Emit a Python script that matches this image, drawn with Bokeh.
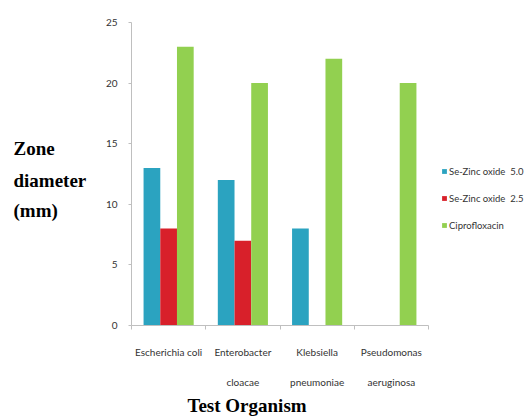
from bokeh.plotting import figure
from bokeh.layouts import row
from bokeh.models import FixedTicker, Legend, LegendItem, ColumnDataSource, Range1d, Title
from bokeh.core.properties import value
from bokeh.embed import file_html
from bokeh.resources import INLINE

organisms = ["Escherichia coli", "Enterobacter\ncloacae", "Klebsiella\npneumoniae", "Pseudomonas\naeruginosa"]
series_names = ["Se-Zinc oxide  5.0", "Se-Zinc oxide  2.5", "Ciprofloxacin"]
se_zn_5 = [13, 12, 8, 0]
se_zn_25 = [8, 7, 0, 0]
cipro = [23, 20, 22, 20]
y_ticks = [0, 5, 10, 15, 20, 25]
y_label_lines = ["Zone", "diameter", "(mm)"]
x_title = "Test Organism"
colors = ["#2BA3C0", "#D8202A", "#92D050"]

SMALL_FONT = "Lato"
SMALL_SIZE = "10px"
TEXT_COL = "#333333"
AXIS_COL = "#BFBFBF"

# layout (pixels)
W, H = 525, 416
LEFT_W = 100
FRAME_L, FRAME_R, FRAME_T, FRAME_B = 131, 428, 22, 326

n = len(organisms)
centers = [i + 0.5 for i in range(n)]
bar_w = 0.225
offsets = [-bar_w, 0.0, bar_w]
x_end = n * (W - FRAME_L) / (FRAME_R - FRAME_L)

# ---- left figure: y-axis title (frame aligned with the main frame, range in page pixels)
lf = figure(width=LEFT_W, height=H, output_backend="svg", toolbar_location=None,
            x_range=Range1d(0, LEFT_W), y_range=Range1d(H - FRAME_B, H - FRAME_T),
            x_axis_location=None, y_axis_location=None,
            min_border_left=0, min_border_right=0,
            min_border_top=FRAME_T, min_border_bottom=H - FRAME_B)
lf.outline_line_color = None
lf.xgrid.grid_line_color = None
lf.ygrid.grid_line_color = None
lf.text(x=[13, 13, 13], y=[H - 148, H - 181, H - 211], text=y_label_lines,
        text_font=value("Liberation Serif"), text_font_style="bold",
        text_font_size="19px", text_color="#000000",
        text_align="left", text_baseline="middle")

# ---- main figure
p = figure(width=W - LEFT_W, height=H, output_backend="svg", toolbar_location=None,
           x_range=Range1d(0, x_end), y_range=Range1d(0, 25),
           min_border_left=FRAME_L - LEFT_W, min_border_right=0,
           min_border_top=FRAME_T, min_border_bottom=H - FRAME_B)
p.outline_line_color = None
p.xgrid.grid_line_color = None
p.ygrid.grid_line_color = None

renderers = []
for vals, off, col in zip([se_zn_5, se_zn_25, cipro], offsets, colors):
    src = ColumnDataSource(dict(x=[c + off for c in centers], top=vals))
    r = p.vbar(x="x", top="top", bottom=0, width=bar_w, source=src, fill_color=col, line_color=None)
    renderers.append(r)

legend = Legend(items=[LegendItem(label=s, renderers=[r]) for s, r in zip(series_names, renderers)],
                location=(441 - FRAME_L, FRAME_B - 233), border_line_color=None,
                background_fill_alpha=0, padding=0, margin=0,
                glyph_width=6, glyph_height=6, label_height=14, spacing=13,
                label_standoff=2, label_text_font=SMALL_FONT,
                label_text_font_size="9.5px", label_text_color=TEXT_COL)
p.add_layout(legend, "center")

ax = p.xaxis[0]
ax.bounds = (0, n)
ax.ticker = FixedTicker(ticks=centers, minor_ticks=list(range(n + 1)))
ax.major_label_overrides = {c: o for c, o in zip(centers, organisms)}
ax.major_tick_out = 0
ax.major_tick_in = 0
ax.minor_tick_out = 4
ax.minor_tick_in = 0
ax.minor_tick_line_color = AXIS_COL
ax.axis_line_color = AXIS_COL
ax.major_label_text_font = SMALL_FONT
ax.major_label_text_font_size = SMALL_SIZE
ax.major_label_text_color = TEXT_COL
ax.major_label_text_line_height = 2.57
ax.major_label_standoff = 16

ay = p.yaxis[0]
ay.ticker = FixedTicker(ticks=y_ticks)
ay.minor_tick_line_color = None
ay.major_tick_out = 3
ay.major_tick_in = 0
ay.major_tick_line_color = AXIS_COL
ay.axis_line_color = AXIS_COL
ay.major_label_text_font = SMALL_FONT
ay.major_label_text_font_size = SMALL_SIZE
ay.major_label_text_color = TEXT_COL
ay.major_label_standoff = 11

p.add_layout(Title(text=x_title, align="left", offset=187 - FRAME_L,
                   text_font="Liberation Serif", text_font_style="bold",
                   text_font_size="19px", text_color="#000000", standoff=2), "below")

layout = row(lf, p)
open("out.html", "w").write(file_html(layout, INLINE))
